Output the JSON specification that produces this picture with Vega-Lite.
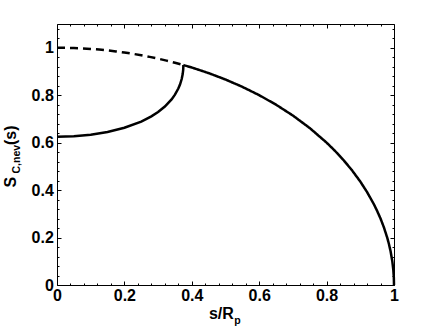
{
  "$schema": "https://vega.github.io/schema/vega-lite/v6.json",
  "width": 337,
  "height": 261,
  "autosize": "none",
  "padding": {"left": 57, "top": 24, "right": 42, "bottom": 42},
  "config": {
    "view": {"stroke": null},
    "axis": {"domainColor": "black", "tickColor": "black", "grid": false, "labelOverlap": false, "labelFlush": false, "titleFont": "Liberation Sans", "titleFontWeight": "bold", "titleColor": "black"}
  },
  "data": {"values": [
    {"s": 0, "v": 1, "curve": "outer_dash"},
    {"s": 0.025, "v": 0.99969, "curve": "outer_dash"},
    {"s": 0.05, "v": 0.99875, "curve": "outer_dash"},
    {"s": 0.075, "v": 0.99718, "curve": "outer_dash"},
    {"s": 0.1, "v": 0.99499, "curve": "outer_dash"},
    {"s": 0.125, "v": 0.99216, "curve": "outer_dash"},
    {"s": 0.15, "v": 0.98869, "curve": "outer_dash"},
    {"s": 0.175, "v": 0.98457, "curve": "outer_dash"},
    {"s": 0.2, "v": 0.9798, "curve": "outer_dash"},
    {"s": 0.225, "v": 0.97436, "curve": "outer_dash"},
    {"s": 0.25, "v": 0.96825, "curve": "outer_dash"},
    {"s": 0.275, "v": 0.96144, "curve": "outer_dash"},
    {"s": 0.3, "v": 0.95394, "curve": "outer_dash"},
    {"s": 0.325, "v": 0.94571, "curve": "outer_dash"},
    {"s": 0.35, "v": 0.93675, "curve": "outer_dash"},
    {"s": 0.375, "v": 0.92703, "curve": "outer_dash"},
    {"s": 0.375, "v": 0.92703, "curve": "outer_solid"},
    {"s": 0.4, "v": 0.91652, "curve": "outer_solid"},
    {"s": 0.45, "v": 0.89303, "curve": "outer_solid"},
    {"s": 0.5, "v": 0.86603, "curve": "outer_solid"},
    {"s": 0.55, "v": 0.83516, "curve": "outer_solid"},
    {"s": 0.6, "v": 0.8, "curve": "outer_solid"},
    {"s": 0.65, "v": 0.75993, "curve": "outer_solid"},
    {"s": 0.7, "v": 0.71414, "curve": "outer_solid"},
    {"s": 0.75, "v": 0.66144, "curve": "outer_solid"},
    {"s": 0.8, "v": 0.6, "curve": "outer_solid"},
    {"s": 0.825, "v": 0.56513, "curve": "outer_solid"},
    {"s": 0.85, "v": 0.52678, "curve": "outer_solid"},
    {"s": 0.875, "v": 0.48412, "curve": "outer_solid"},
    {"s": 0.9, "v": 0.43589, "curve": "outer_solid"},
    {"s": 0.92, "v": 0.39192, "curve": "outer_solid"},
    {"s": 0.94, "v": 0.34117, "curve": "outer_solid"},
    {"s": 0.95, "v": 0.31225, "curve": "outer_solid"},
    {"s": 0.96, "v": 0.28, "curve": "outer_solid"},
    {"s": 0.97, "v": 0.2431, "curve": "outer_solid"},
    {"s": 0.98, "v": 0.199, "curve": "outer_solid"},
    {"s": 0.985, "v": 0.17255, "curve": "outer_solid"},
    {"s": 0.99, "v": 0.14107, "curve": "outer_solid"},
    {"s": 0.995, "v": 0.09987, "curve": "outer_solid"},
    {"s": 0.998, "v": 0.06321, "curve": "outer_solid"},
    {"s": 0.9995, "v": 0.03162, "curve": "outer_solid"},
    {"s": 1, "v": 0, "curve": "outer_solid"},
    {"s": 0, "v": 0.625, "curve": "inner"},
    {"s": 0.05, "v": 0.6271, "curve": "inner"},
    {"s": 0.1, "v": 0.63357, "curve": "inner"},
    {"s": 0.15, "v": 0.645, "curve": "inner"},
    {"s": 0.2, "v": 0.66259, "curve": "inner"},
    {"s": 0.25, "v": 0.68874, "curve": "inner"},
    {"s": 0.28, "v": 0.71055, "curve": "inner"},
    {"s": 0.3, "v": 0.72894, "curve": "inner"},
    {"s": 0.32, "v": 0.75191, "curve": "inner"},
    {"s": 0.34, "v": 0.78224, "curve": "inner"},
    {"s": 0.35, "v": 0.80212, "curve": "inner"},
    {"s": 0.36, "v": 0.82795, "curve": "inner"},
    {"s": 0.365, "v": 0.84499, "curve": "inner"},
    {"s": 0.37, "v": 0.868, "curve": "inner"},
    {"s": 0.373, "v": 0.88915, "curve": "inner"},
    {"s": 0.3745, "v": 0.90787, "curve": "inner"},
    {"s": 0.375, "v": 0.92703, "curve": "inner"}
  ]},
  "layer": [
    {
      "transform": [{"filter": "datum.curve != 'inner'"}],
      "mark": {"type": "line", "color": "black", "strokeWidth": 2.5},
      "encoding": {
        "x": {"field": "s", "type": "quantitative", "scale": {"domain": [0, 1], "nice": false},
          "axis": {"orient": "bottom", "values": [0, 0.2, 0.4, 0.6, 0.8, 1], "tickSize": -4, "format": ".1~f",
            "labelFont": "Liberation Sans", "labelFontWeight": "bold", "labelFontSize": 16, "labelColor": "black", "labelPadding": 6,
            "title": "s/R", "titleFontSize": 16, "titleX": 176.3, "titleY": 33, "titleAlign": "right", "titleBaseline": "alphabetic"}},
        "y": {"field": "v", "type": "quantitative", "scale": {"domain": [0, 1.1], "nice": false},
          "axis": {"orient": "left", "values": [0, 0.2, 0.4, 0.6, 0.8, 1], "tickSize": -4, "format": ".1~f",
            "labelFont": "Liberation Sans", "labelFontWeight": "bold", "labelFontSize": 16, "labelColor": "black", "labelPadding": 7.7,
            "title": "S", "titleFontSize": 16, "titleAngle": -90, "titleX": -41.3, "titleY": 163, "titleAlign": "left", "titleBaseline": "alphabetic"}},
        "strokeDash": {"field": "curve", "type": "nominal", "scale": {"domain": ["outer_dash", "outer_solid"], "range": [[8, 5], [1, 0]]}, "legend": null}
      }
    },
    {
      "transform": [{"filter": "datum.curve == 'inner'"}],
      "mark": {"type": "line", "color": "black", "strokeWidth": 2.5},
      "encoding": {
        "x": {"field": "s", "type": "quantitative",
          "axis": {"orient": "top", "values": [0, 0.2, 0.4, 0.6, 0.8, 1], "tickSize": -4, "labels": false, "title": null}},
        "y": {"field": "v", "type": "quantitative",
          "axis": {"orient": "right", "values": [0, 0.2, 0.4, 0.6, 0.8, 1], "tickSize": -4, "labels": false, "title": null}}
      }
    },
    {
      "transform": [{"filter": "datum.curve == 'inner'"}],
      "mark": {"type": "line", "opacity": 0},
      "encoding": {
        "x": {"field": "s", "type": "quantitative",
          "axis": {"orient": "bottom", "values": [0.04,0.08,0.12,0.16,0.24,0.28,0.32,0.36,0.44,0.48,0.52,0.56,0.64,0.68,0.72,0.76,0.84,0.88,0.92,0.96], "tickSize": -2, "labels": false, "domain": false, "title": null}},
        "y": {"field": "v", "type": "quantitative",
          "axis": {"orient": "left", "values": [0.04,0.08,0.12,0.16,0.24,0.28,0.32,0.36,0.44,0.48,0.52,0.56,0.64,0.68,0.72,0.76,0.84,0.88,0.92,0.96,1.04,1.08], "tickSize": -2, "labels": false, "domain": false, "title": null}}
      }
    },
    {
      "transform": [{"filter": "datum.curve == 'inner'"}],
      "mark": {"type": "line", "opacity": 0},
      "encoding": {
        "x": {"field": "s", "type": "quantitative",
          "axis": {"orient": "top", "values": [0.04,0.08,0.12,0.16,0.24,0.28,0.32,0.36,0.44,0.48,0.52,0.56,0.64,0.68,0.72,0.76,0.84,0.88,0.92,0.96], "tickSize": -2, "labels": false, "domain": false, "title": null}},
        "y": {"field": "v", "type": "quantitative",
          "axis": {"orient": "right", "values": [0.04,0.08,0.12,0.16,0.24,0.28,0.32,0.36,0.44,0.48,0.52,0.56,0.64,0.68,0.72,0.76,0.84,0.88,0.92,0.96,1.04,1.08], "tickSize": -2, "labels": false, "domain": false, "title": null}}
      }
    },
    {
      "transform": [{"filter": "datum.curve == 'inner'"}],
      "mark": {"type": "line", "opacity": 0},
      "encoding": {
        "x": {"field": "s", "type": "quantitative",
          "axis": {"orient": "bottom", "labels": false, "ticks": false, "domain": false,
            "title": "p", "titleFontSize": 10.5, "titleX": 176.8, "titleY": 38, "titleAlign": "left", "titleBaseline": "alphabetic"}},
        "y": {"field": "v", "type": "quantitative",
          "axis": {"orient": "left", "labels": false, "ticks": false, "domain": false,
            "title": "C,nev", "titleFontSize": 10.5, "titleAngle": -90, "titleX": -38, "titleY": 149, "titleAlign": "left", "titleBaseline": "alphabetic"}}
      }
    },
    {
      "transform": [{"filter": "datum.curve == 'inner'"}],
      "mark": {"type": "line", "opacity": 0},
      "encoding": {
        "x": {"field": "s", "type": "quantitative", "axis": null},
        "y": {"field": "v", "type": "quantitative",
          "axis": {"orient": "left", "labels": false, "ticks": false, "domain": false,
            "title": "(s)", "titleFontSize": 16, "titleAngle": -90, "titleX": -41.3, "titleY": 120.5, "titleAlign": "left", "titleBaseline": "alphabetic"}}
      }
    }
  ],
  "resolve": {"scale": {"x": "shared", "y": "shared"}, "axis": {"x": "independent", "y": "independent"}}
}
